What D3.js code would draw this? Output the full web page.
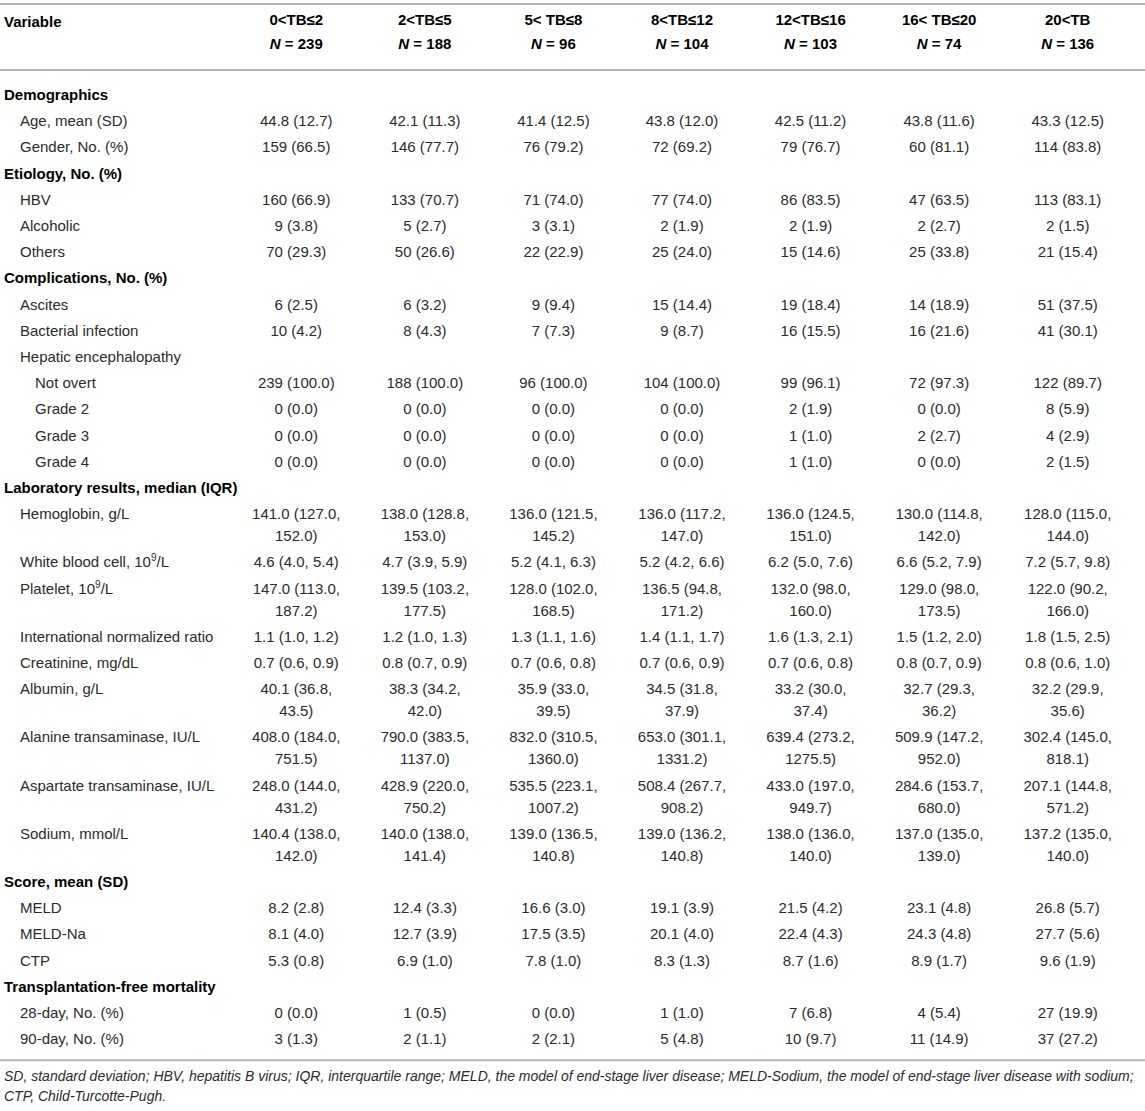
<!DOCTYPE html>
<html>
<head>
<meta charset="utf-8">
<script src="https://cdn.jsdelivr.net/npm/d3@7"></script>
<style>
  body { margin: 0; background: #fff; }
  svg { display: block; font-family: "Liberation Sans", Arial, Helvetica, sans-serif; }
</style>
</head>
<body>
<svg width="1145" height="1111"></svg>
<script>
// column groups (total bilirubin ranges) and their sizes
const categories = ["0<TB≤2", "2<TB≤5", "5< TB≤8", "8<TB≤12", "12<TB≤16", "16< TB≤20", "20<TB"];
const groupN = [239, 188, 96, 104, 103, 74, 136];

// each row: [label, level, ...values]  level 0 = section, 1 = item, 2 = sub item
const demographics = [
  ["Demographics", 0],
  ["Age, mean (SD)", 1, "44.8 (12.7)", "42.1 (11.3)", "41.4 (12.5)", "43.8 (12.0)", "42.5 (11.2)", "43.8 (11.6)", "43.3 (12.5)"],
  ["Gender, No. (%)", 1, "159 (66.5)", "146 (77.7)", "76 (79.2)", "72 (69.2)", "79 (76.7)", "60 (81.1)", "114 (83.8)"]
];
const etiology = [
  ["Etiology, No. (%)", 0],
  ["HBV", 1, "160 (66.9)", "133 (70.7)", "71 (74.0)", "77 (74.0)", "86 (83.5)", "47 (63.5)", "113 (83.1)"],
  ["Alcoholic", 1, "9 (3.8)", "5 (2.7)", "3 (3.1)", "2 (1.9)", "2 (1.9)", "2 (2.7)", "2 (1.5)"],
  ["Others", 1, "70 (29.3)", "50 (26.6)", "22 (22.9)", "25 (24.0)", "15 (14.6)", "25 (33.8)", "21 (15.4)"]
];
const complications = [
  ["Complications, No. (%)", 0],
  ["Ascites", 1, "6 (2.5)", "6 (3.2)", "9 (9.4)", "15 (14.4)", "19 (18.4)", "14 (18.9)", "51 (37.5)"],
  ["Bacterial infection", 1, "10 (4.2)", "8 (4.3)", "7 (7.3)", "9 (8.7)", "16 (15.5)", "16 (21.6)", "41 (30.1)"],
  ["Hepatic encephalopathy", 1],
  ["Not overt", 2, "239 (100.0)", "188 (100.0)", "96 (100.0)", "104 (100.0)", "99 (96.1)", "72 (97.3)", "122 (89.7)"],
  ["Grade 2", 2, "0 (0.0)", "0 (0.0)", "0 (0.0)", "0 (0.0)", "2 (1.9)", "0 (0.0)", "8 (5.9)"],
  ["Grade 3", 2, "0 (0.0)", "0 (0.0)", "0 (0.0)", "0 (0.0)", "1 (1.0)", "2 (2.7)", "4 (2.9)"],
  ["Grade 4", 2, "0 (0.0)", "0 (0.0)", "0 (0.0)", "0 (0.0)", "1 (1.0)", "0 (0.0)", "2 (1.5)"]
];
const laboratory = [
  ["Laboratory results, median (IQR)", 0],
  ["Hemoglobin, g/L", 1, "141.0 (127.0, 152.0)", "138.0 (128.8, 153.0)", "136.0 (121.5, 145.2)", "136.0 (117.2, 147.0)", "136.0 (124.5, 151.0)", "130.0 (114.8, 142.0)", "128.0 (115.0, 144.0)"],
  ["White blood cell, 10^9/L", 1, "4.6 (4.0, 5.4)", "4.7 (3.9, 5.9)", "5.2 (4.1, 6.3)", "5.2 (4.2, 6.6)", "6.2 (5.0, 7.6)", "6.6 (5.2, 7.9)", "7.2 (5.7, 9.8)"],
  ["Platelet, 10^9/L", 1, "147.0 (113.0, 187.2)", "139.5 (103.2, 177.5)", "128.0 (102.0, 168.5)", "136.5 (94.8, 171.2)", "132.0 (98.0, 160.0)", "129.0 (98.0, 173.5)", "122.0 (90.2, 166.0)"],
  ["International normalized ratio", 1, "1.1 (1.0, 1.2)", "1.2 (1.0, 1.3)", "1.3 (1.1, 1.6)", "1.4 (1.1, 1.7)", "1.6 (1.3, 2.1)", "1.5 (1.2, 2.0)", "1.8 (1.5, 2.5)"],
  ["Creatinine, mg/dL", 1, "0.7 (0.6, 0.9)", "0.8 (0.7, 0.9)", "0.7 (0.6, 0.8)", "0.7 (0.6, 0.9)", "0.7 (0.6, 0.8)", "0.8 (0.7, 0.9)", "0.8 (0.6, 1.0)"],
  ["Albumin, g/L", 1, "40.1 (36.8, 43.5)", "38.3 (34.2, 42.0)", "35.9 (33.0, 39.5)", "34.5 (31.8, 37.9)", "33.2 (30.0, 37.4)", "32.7 (29.3, 36.2)", "32.2 (29.9, 35.6)"],
  ["Alanine transaminase, IU/L", 1, "408.0 (184.0, 751.5)", "790.0 (383.5, 1137.0)", "832.0 (310.5, 1360.0)", "653.0 (301.1, 1331.2)", "639.4 (273.2, 1275.5)", "509.9 (147.2, 952.0)", "302.4 (145.0, 818.1)"],
  ["Aspartate transaminase, IU/L", 1, "248.0 (144.0, 431.2)", "428.9 (220.0, 750.2)", "535.5 (223.1, 1007.2)", "508.4 (267.7, 908.2)", "433.0 (197.0, 949.7)", "284.6 (153.7, 680.0)", "207.1 (144.8, 571.2)"],
  ["Sodium, mmol/L", 1, "140.4 (138.0, 142.0)", "140.0 (138.0, 141.4)", "139.0 (136.5, 140.8)", "139.0 (136.2, 140.8)", "138.0 (136.0, 140.0)", "137.0 (135.0, 139.0)", "137.2 (135.0, 140.0)"]
];
const scores = [
  ["Score, mean (SD)", 0],
  ["MELD", 1, "8.2 (2.8)", "12.4 (3.3)", "16.6 (3.0)", "19.1 (3.9)", "21.5 (4.2)", "23.1 (4.8)", "26.8 (5.7)"],
  ["MELD-Na", 1, "8.1 (4.0)", "12.7 (3.9)", "17.5 (3.5)", "20.1 (4.0)", "22.4 (4.3)", "24.3 (4.8)", "27.7 (5.6)"],
  ["CTP", 1, "5.3 (0.8)", "6.9 (1.0)", "7.8 (1.0)", "8.3 (1.3)", "8.7 (1.6)", "8.9 (1.7)", "9.6 (1.9)"]
];
const mortality = [
  ["Transplantation-free mortality", 0],
  ["28-day, No. (%)", 1, "0 (0.0)", "1 (0.5)", "0 (0.0)", "1 (1.0)", "7 (6.8)", "4 (5.4)", "27 (19.9)"],
  ["90-day, No. (%)", 1, "3 (1.3)", "2 (1.1)", "2 (2.1)", "5 (4.8)", "10 (9.7)", "11 (14.9)", "37 (27.2)"]
];
const footnote = [
  "SD, standard deviation; HBV, hepatitis B virus; IQR, interquartile range; MELD, the model of end-stage liver disease; MELD-Sodium, the model of end-stage liver disease with sodium;",
  "CTP, Child-Turcotte-Pugh."
];

const svg = d3.select("svg");
const width = +svg.attr("width");
const fontSize = 15;
const ink = "#2b2b2b";
const ruleColor = "#b3b3b3";

const rows = [].concat(demographics, etiology, complications, laboratory, scores, mortality);

// split long "median (q1, q3)" cells onto two lines after the comma
const cellLines = v => v.length > 15 ? [v.slice(0, v.indexOf(",") + 1), v.slice(v.indexOf(",") + 2)] : [v];
rows.forEach(r => {
  r.cells = r.slice(2).map(cellLines);
  r.lines = d3.max(r.cells, c => c.length) || 1;
});

// vertical layout: row step + extra wrapped line
const rowStep = 26.2, wrapStep = 22;
const firstRowY = 95;
const heights = rows.map(r => rowStep + (r.lines - 1) * wrapStep);
const offsets = [0].concat(Array.from(d3.cumsum(heights)));
const y = d3.scaleOrdinal().domain(d3.range(rows.length)).range(offsets.map(o => firstRowY + o));

const x = d3.scaleBand().domain(categories).range([232, 1132]);
const labelX = d3.scaleOrdinal().domain([0, 1, 2]).range([4, 20, 35]);

// rules
const ruleTop = 4, ruleHead = 70;
const lastY = y(rows.length - 1);
const ruleBottom = lastY + 21;
svg.append("g").selectAll("line")
  .data([ruleTop, ruleHead, ruleBottom])
  .join("line")
  .attr("x1", 0).attr("x2", width)
  .attr("y1", d => d).attr("y2", d => d)
  .attr("stroke", ruleColor).attr("stroke-width", 2);

// header
const head = svg.append("g").attr("font-weight", "bold").attr("font-size", fontSize).attr("fill", "#000");
head.append("text").attr("x", 4).attr("y", 22 + 5).text("Variable");
head.selectAll("text.cat")
  .data(categories)
  .join("text")
  .attr("class", "cat")
  .attr("x", d => x(d) + x.bandwidth() / 2)
  .attr("y", 20 + 5)
  .attr("text-anchor", "middle")
  .text(d => d);
const nText = head.selectAll("text.n")
  .data(groupN)
  .join("text")
  .attr("class", "n")
  .attr("x", (d, i) => x(categories[i]) + x.bandwidth() / 2)
  .attr("y", 44 + 5)
  .attr("text-anchor", "middle");
nText.append("tspan").attr("font-style", "italic").text("N");
nText.append("tspan").text(d => " = " + d);

// body rows
const body = svg.append("g").attr("font-size", fontSize).attr("fill", ink);
const rowG = body.selectAll("g.row")
  .data(rows)
  .join("g")
  .attr("class", "row")
  .attr("transform", (d, i) => `translate(0,${y(i) + 5})`);

rowG.append("text")
  .attr("x", d => labelX(d[1]))
  .attr("font-weight", d => d[1] === 0 ? "bold" : null)
  .attr("fill", d => d[1] === 0 ? "#000" : ink)
  .each(function (d) {
    const t = d3.select(this);
    const parts = d[0].split("^");
    if (parts.length === 1) { t.text(d[0]); return; }
    // "10^9/L" -> 10 with superscript 9
    const m = parts[1].match(/^(\d+)(.*)$/);
    t.append("tspan").text(parts[0]);
    t.append("tspan").attr("font-size", 10).attr("dy", -6).text(m[1]);
    t.append("tspan").attr("dy", 6).text(m[2]);
  });

rowG.selectAll("text.cell")
  .data(d => d.cells.map((c, i) => ({ lines: c, cat: categories[i] })))
  .join("text")
  .attr("class", "cell")
  .attr("text-anchor", "middle")
  .attr("x", d => x(d.cat) + x.bandwidth() / 2)
  .selectAll("tspan")
  .data(d => d.lines)
  .join("tspan")
  .attr("x", function () { return d3.select(this.parentNode).attr("x"); })
  .attr("y", (d, i) => i * wrapStep)
  .text(d => d);

// footnote
svg.append("g")
  .attr("font-size", 14)
  .attr("font-style", "italic")
  .attr("fill", ink)
  .selectAll("text")
  .data(footnote)
  .join("text")
  .attr("x", 4)
  .attr("y", (d, i) => ruleBottom + 21 + i * 20)
  .text(d => d);
</script>
</body>
</html>
